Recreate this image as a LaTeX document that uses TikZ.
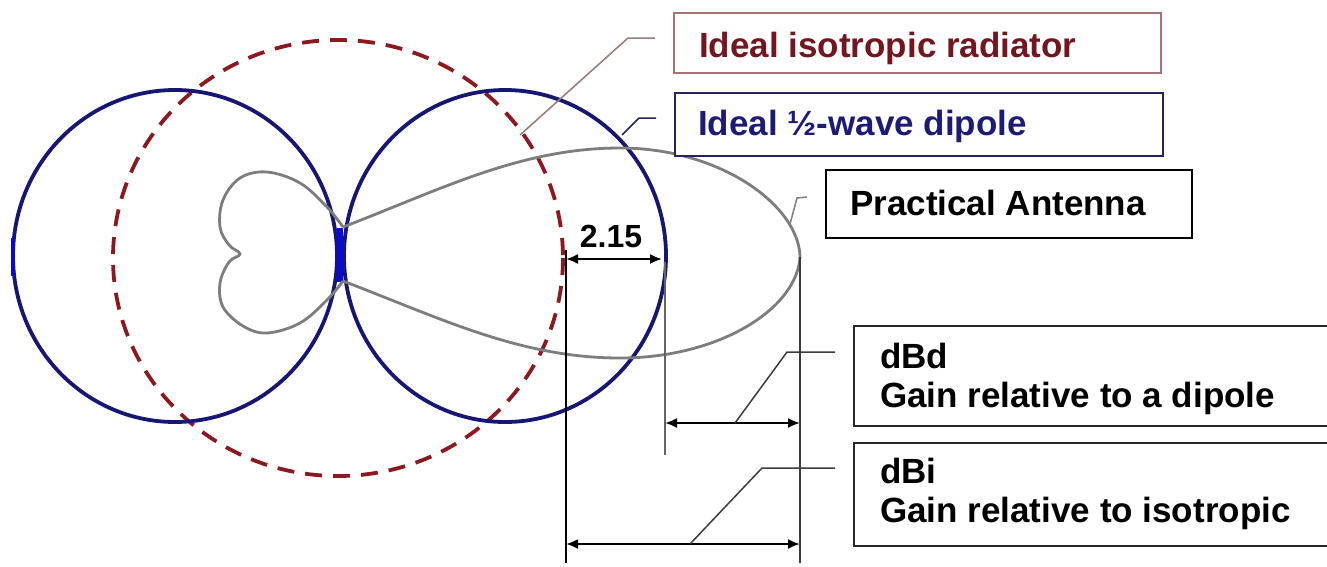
\documentclass[tikz,border=0pt]{standalone}
\usepackage{fontspec}
\setmainfont{Liberation Sans}
\usetikzlibrary{arrows.meta}
\definecolor{navy}{RGB}{22,22,115}
\definecolor{brightblue}{RGB}{10,10,215}
\definecolor{isored}{RGB}{140,25,32}
\definecolor{isotext}{RGB}{115,22,32}
\definecolor{isoborder}{RGB}{165,115,115}
\definecolor{isolead}{RGB}{150,120,120}
\definecolor{diptext}{RGB}{28,28,120}
\definecolor{dipborder}{RGB}{35,35,95}
\definecolor{patgray}{RGB}{125,125,125}
\definecolor{dimgrayc}{RGB}{60,60,60}
\tikzset{
  circ/.style={draw=navy, line width=3.8pt},
  isocirc/.style={draw=isored, line width=3.8pt, dash pattern=on 17pt off 11pt},
  pat/.style={draw=patgray, line width=2.8pt},
  lead/.style={line width=1.5pt},
  box/.style={draw, line width=2pt, anchor=north west, inner sep=0pt, fill=white},
  lbl/.style={anchor=base west, inner sep=0pt, font=\fontsize{35}{39}\selectfont\bfseries},
  extline/.style={draw=dimgrayc, line width=1.8pt},
  dimarrow/.style={line width=2pt, {Latex[length=12pt,width=10pt]}-{Latex[length=12pt,width=10pt]}}
}
\begin{document}
\begin{tikzpicture}[x=1pt,y=-1pt]
\useasboundingbox (0,0) rectangle (1327,566);
\clip (0,0) rectangle (1327,566);
\fill[white] (0,0) rectangle (1327,566);

% ideal isotropic radiator (dashed)
\draw[isocirc] (338,258) ellipse [x radius=225, y radius=218];

% ideal half-wave dipole
\draw[circ] (175,256) ellipse [x radius=162, y radius=166];
\draw[circ] (505,256) ellipse [x radius=161, y radius=166];
\draw[draw=brightblue, line width=6pt] (340,228) -- (340,282);
\draw[draw=brightblue, line width=4pt] (13,238) -- (13,276);

% practical antenna pattern
\draw[pat] plot[smooth, tension=0.6] coordinates {(343,227) (327,207) (300,183) (267,172) (240,178) (223,200) (220,227) (229,245) (240,254) (229,262) (220,283) (223,307) (243,326) (267,333) (300,323) (327,300) (343,281)};
\draw[pat] (343,227) .. controls (440,190) and (520,148) .. (620,148)
  .. controls (720,148) and (798,205) .. (800,256)
  .. controls (798,308) and (720,358) .. (620,358)
  .. controls (520,358) and (440,318) .. (343,281);

% boxes
\node[box, draw=isoborder, minimum width=487pt, minimum height=60pt] (isobox) at (673,12) {};
\node[box, draw=dipborder, minimum width=488pt, minimum height=63pt] (dipbox) at (674,92) {};
\node[box, draw=black, minimum width=366pt, minimum height=68pt] (prbox) at (825,169) {};
\node[box, draw=black!85, minimum width=490pt, minimum height=100pt] (dbdbox) at (853,325) {};
\node[box, draw=black!85, minimum width=490pt, minimum height=103pt] (dbibox) at (853,442) {};

% labels
\node[lbl, text=isotext] (isotxt) at (699,57) {Ideal isotropic radiator};
\node[lbl, text=diptext] (diptxt) at (698,135) {Ideal ½-wave dipole};
\node[lbl] (prtxt) at (850,215) {Practical Antenna};
\node[lbl] (dbdtxt) at (880,368) {dBd};
\node[lbl] (dbdtxt2) at (880,407) {Gain relative to a dipole};
\node[lbl] (dbitxt) at (880,483) {dBi};
\node[lbl] (dbitxt2) at (880,522) {Gain relative to isotropic};

% leader coordinates
\coordinate (isoA) at (520,135);
\coordinate (isoB) at (628,38);
\coordinate (isoC) at (655,38);
\coordinate (dipA) at (622,135);
\coordinate (dipB) at (639,118);
\coordinate (dipC) at (656,118);
\coordinate (prA) at (790,224);
\coordinate (prB) at (797,198);
\coordinate (prC) at (807,197);
\draw[lead, draw=isolead] (isoA) -- (isoB) -- (isoC);
\draw[lead, draw=dipborder] (dipA) -- (dipB) -- (dipC);
\draw[lead, draw=patgray] (prA) -- (prB) -- (prC);

% extension lines
\coordinate (e1t) at (566,250);
\coordinate (e1b) at (566,563);
\coordinate (e2t) at (665,262);
\coordinate (e2b) at (665,455);
\coordinate (e3t) at (800,257);
\coordinate (e3b) at (800,563);
\draw[extline, draw=black] (e1t) -- (e1b);
\draw[extline, draw=patgray!80!black] (e2t) -- (e2b);
\draw[extline] (e3t) -- (e3b);

% dimension arrows
\coordinate (d1a) at (566,259);
\coordinate (d1b) at (662,259);
\coordinate (d2a) at (665,423);
\coordinate (d2b) at (800,423);
\coordinate (d3a) at (566,544);
\coordinate (d3b) at (800,544);
\draw[dimarrow] (d1a) -- (d1b);
\draw[dimarrow] (d2a) -- (d2b);
\draw[dimarrow] (d3a) -- (d3b);
\node[anchor=base, inner sep=0pt, font=\fontsize{32}{36}\selectfont\bfseries] (gain215) at (611,247) {2.15};

% leaders to gain boxes
\coordinate (bdA) at (735,423);
\coordinate (bdB) at (787,352);
\coordinate (bdC) at (835,352);
\coordinate (biA) at (690,544);
\coordinate (biB) at (762,468);
\coordinate (biC) at (835,468);
\draw[lead, draw=dimgrayc] (bdA) -- (bdB) -- (bdC);
\draw[lead, draw=dimgrayc] (biA) -- (biB) -- (biC);
\end{tikzpicture}
\end{document}
